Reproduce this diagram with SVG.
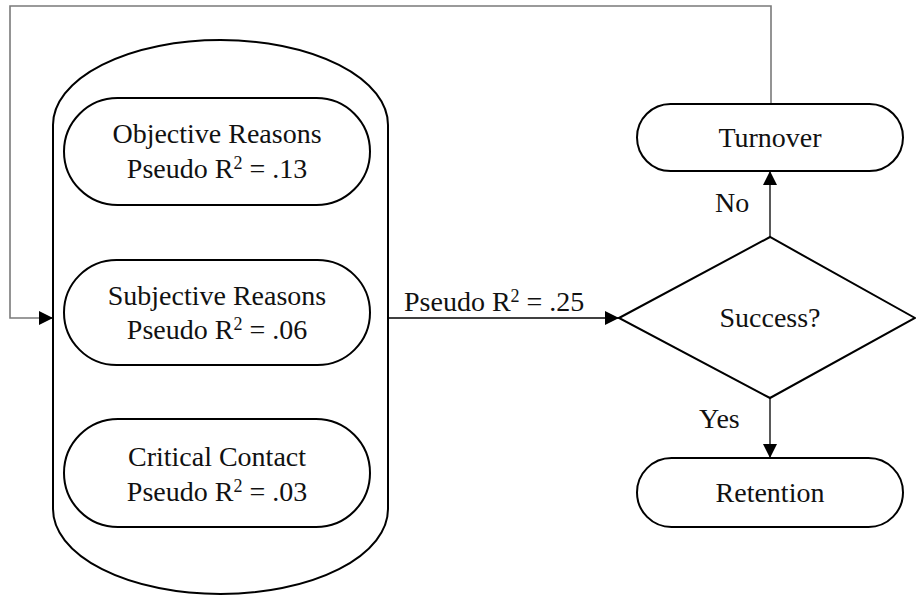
<svg xmlns="http://www.w3.org/2000/svg" width="916" height="596" viewBox="0 0 916 596">
<defs>
<style>
.shape{fill:#fff;stroke:#000;stroke-width:2}
.conn{fill:none;stroke:#000;stroke-width:1.3}
.loop{fill:none;stroke:#7a7a7a;stroke-width:1.6}
text{font-family:"Liberation Serif","Times New Roman",serif;font-size:28px;fill:#111}
.mid{text-anchor:middle}
.sup{font-size:18px}
</style>
<marker id="arr" markerUnits="userSpaceOnUse" markerWidth="14" markerHeight="14" refX="14" refY="7" orient="auto" viewBox="0 0 14 14">
<path d="M0,0 L14,7 L0,14 z" fill="#000"/>
</marker>
</defs>
<rect width="916" height="596" fill="#fff"/>
<g id="connectors">
<polyline class="loop" points="771,104 771,6 10,6 10,318 40,318"/>
<line class="conn" x1="40" y1="318" x2="53" y2="318" marker-end="url(#arr)"/>
<line class="conn" x1="388" y1="318" x2="619" y2="318" marker-end="url(#arr)"/>
<line class="conn" x1="770" y1="237" x2="770" y2="171" marker-end="url(#arr)"/>
<line class="conn" x1="770" y1="398" x2="770" y2="458" marker-end="url(#arr)"/>
<text x="404" y="311">Pseudo R<tspan class="sup" dy="-9">2</tspan><tspan dy="9"> = .25</tspan></text>
<text x="715" y="212">No</text>
<text x="699" y="428">Yes</text>
</g>
<g id="container">
<rect class="shape" x="53" y="40" width="335" height="554" rx="167.5" ry="85"/>
</g>
<g id="objective">
<rect class="shape" x="64" y="98" width="306" height="107" rx="53.5"/>
<text class="mid" x="217" y="143">Objective Reasons</text>
<text class="mid" x="217" y="178">Pseudo R<tspan class="sup" dy="-9">2</tspan><tspan dy="9"> = .13</tspan></text>
</g>
<g id="subjective">
<rect class="shape" x="64" y="260" width="306" height="105" rx="52.5"/>
<text class="mid" x="217" y="305">Subjective Reasons</text>
<text class="mid" x="217" y="339">Pseudo R<tspan class="sup" dy="-9">2</tspan><tspan dy="9"> = .06</tspan></text>
</g>
<g id="critical">
<rect class="shape" x="64" y="419" width="306" height="108" rx="54"/>
<text class="mid" x="217" y="466">Critical Contact</text>
<text class="mid" x="217" y="501">Pseudo R<tspan class="sup" dy="-9">2</tspan><tspan dy="9"> = .03</tspan></text>
</g>
<g id="success">
<polygon class="shape" points="619,318 770,237 915,318 770,398"/>
<text class="mid" x="770" y="327">Success?</text>
</g>
<g id="turnover">
<rect class="shape" x="637" y="104" width="266" height="67" rx="33.5"/>
<text class="mid" x="770" y="147">Turnover</text>
</g>
<g id="retention">
<rect class="shape" x="637" y="458" width="266" height="69" rx="34.5"/>
<text class="mid" x="770" y="502">Retention</text>
</g>
</svg>
